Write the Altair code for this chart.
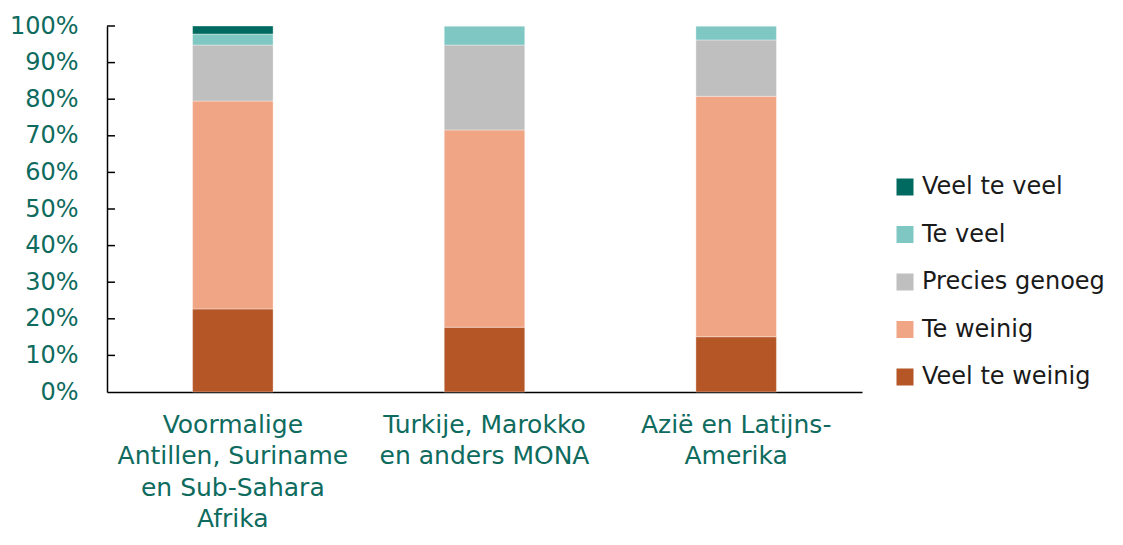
import altair as alt
import pandas as pd

groups = [
    "Voormalige|Antillen, Suriname|en Sub-Sahara|Afrika",
    "Turkije, Marokko|en anders MONA",
    "Azië en Latijns-|Amerika",
]
answers = ["Veel te weinig", "Te weinig", "Precies genoeg", "Te veel", "Veel te veel"]
colors = ["#b55627", "#f0a585", "#bfbfbf", "#7fc7c2", "#006a60"]
values = {
    "Veel te weinig": [22.7, 17.7, 15.1],
    "Te weinig": [56.8, 53.9, 65.7],
    "Precies genoeg": [15.3, 23.2, 15.4],
    "Te veel": [3.0, 5.2, 3.8],
    "Veel te veel": [2.2, 0.0, 0.0],
}
axis_values = [0, 10, 20, 30, 40, 50, 60, 70, 80, 90, 100]
tick_values = [10, 20, 30, 40, 50, 60, 70, 80, 90, 100]

rows = []
for ai, a in enumerate(answers):
    for gi, g in enumerate(groups):
        rows.append({"group": g, "answer": a, "value": values[a][gi], "rank": ai})
df = pd.DataFrame(rows)
ticks_df = pd.DataFrame({"t": tick_values})

FONT = "DejaVu Sans"
TEAL = "#0e6b5e"

legend_order = list(reversed(answers))
legend_colors = list(reversed(colors))

y_scale = alt.Scale(domain=[0, 100], nice=False)
y_axis = alt.Axis(title=None, values=axis_values,
                  labelExpr="datum.value + '%'", grid=False, ticks=False,
                  labelColor=TEAL, labelFontSize=24, labelFont=FONT,
                  labelOverlap=False, labelLimit=0,
                  labelPadding=29, domainColor="#000000", domainWidth=1.5)

bars = alt.Chart(df).mark_bar(stroke="#ffffff", strokeWidth=0.6, strokeOpacity=0.6).encode(
    x=alt.X("group:N", sort=groups,
            scale=alt.Scale(paddingInner=0.68, paddingOuter=0.34),
            axis=alt.Axis(title=None, labelAngle=0, ticks=False,
                          labelExpr="split(datum.label, '|')",
                          labelColor=TEAL, labelFontSize=25, labelFont=FONT,
                          labelLineHeight=31.5, labelPadding=20, labelLimit=0,
                          labelOverlap=False,
                          domainColor="#000000", domainWidth=1.5)),
    y=alt.Y("value:Q", stack="zero", scale=y_scale, axis=y_axis),
    color=alt.Color("answer:N",
                    scale=alt.Scale(domain=legend_order, range=legend_colors),
                    legend=alt.Legend(title=None, orient="none", legendX=786, legendY=149,
                                      labelFontSize=24, labelFont=FONT, labelColor="#1a1a1a",
                                      labelLimit=0,
                                      symbolType="square", symbolSize=289,
                                      symbolStrokeWidth=0, rowPadding=23.5, labelOffset=5)),
    order=alt.Order("rank:Q", sort="ascending"),
)

tick_marks = alt.Chart(ticks_df).mark_rule(color="#000000", strokeWidth=1.5).encode(
    y=alt.Y("t:Q", scale=y_scale, axis=y_axis),
    x=alt.value(0),
    x2=alt.value(8),
)

chart = alt.layer(bars, tick_marks).properties(
    width=755, height=366,
    autosize=alt.AutoSizeParams(type="none"),
    padding={"left": 99, "top": 18, "right": 253, "bottom": 144},
).configure(font=FONT).configure_view(strokeWidth=0, stroke=None)

chart.save("out.html", embed_options={"renderer": "svg", "actions": False})
